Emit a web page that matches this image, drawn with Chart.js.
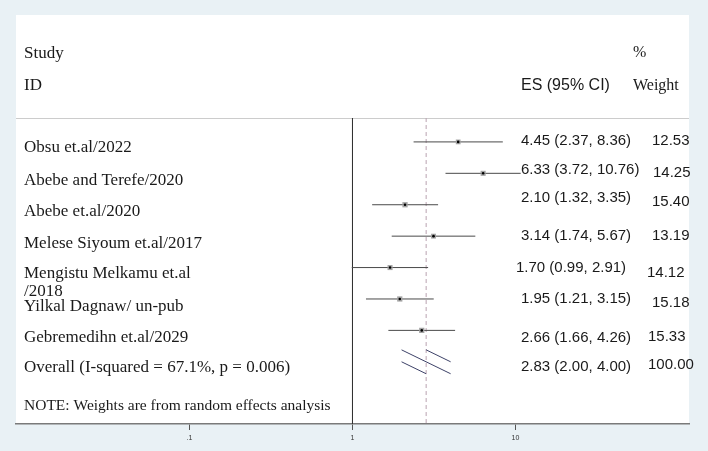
<!DOCTYPE html>
<html>
<head>
<meta charset="utf-8">
<script src="https://cdn.jsdelivr.net/npm/chart.js@4.4.1/dist/chart.umd.min.js"></script>
<style>
  html, body { margin: 0; padding: 0; background: #e9f1f5; }
  #wrap { width: 708px; height: 451px; position: relative; }
</style>
</head>
<body>
<div id="wrap"><canvas id="forest"></canvas></div>
<script>
// Forest plot data
const studies = ['Obsu et.al/2022', 'Abebe and Terefe/2020', 'Abebe et.al/2020', 'Melese Siyoum et.al/2017',
  'Mengistu Melkamu et.al\n/2018', 'Yilkal Dagnaw/ un-pub', 'Gebremedihn et.al/2029'];
const es = [4.45, 6.33, 2.10, 3.14, 1.70, 1.95, 2.66];
const ciLow = [2.37, 3.72, 1.32, 1.74, 0.99, 1.21, 1.66];
const ciHigh = [8.36, 10.76, 3.35, 5.67, 2.91, 3.15, 4.26];
const weights = [12.53, 14.25, 15.40, 13.19, 14.12, 15.18, 15.33];
const overallLabel = 'Overall (I-squared = 67.1%, p = 0.006)';
const overallEs = 2.83;
const overallLow = 2.00;
const overallHigh = 4.00;
const overallWeight = 100.00;
const tickValues = [0.1, 1, 10];
const tickLabels = ['.1', '1', '10'];

// Layout (pixels / scale limits)
const X_MIN = 0.008623, X_MAX = 115.97;
const Y_MIN = -4.04, Y_MAX = 8.98;
const HEADER_ROW = -0.76;
const DIAMOND_H = 0.38;
const labelDy = [6, 7, 7, 7, 6, 8, 7, 6];
const esX = [521, 521, 521, 521, 516, 521, 521, 521];
const esDy = [-1, -3, -7, 0, 0, 0, 7, 5];
const wX = [652, 653, 652, 652, 647, 652, 648, 648];
const wDy = [-1, 0, -3, 0, 5, 4, 6, 3];

const SERIF = '"Liberation Serif", "Times New Roman", serif';
const SANS = '"Liberation Sans", Arial, sans-serif';
const TEXT = '#1a1a1a';

const fmtCi = (e, l, h) => `${e.toFixed(2)} (${l.toFixed(2)}, ${h.toFixed(2)})`;
const overallRow = studies.length;

function seg(points, color, width, order, dash) {
  return {
    data: points, showLine: true, borderColor: color, borderWidth: width,
    borderDash: dash || [], pointRadius: 0, pointHoverRadius: 0, order: order
  };
}

const datasets = [];
// centre dots
datasets.push({
  data: es.map((v, i) => ({ x: v, y: i })),
  pointStyle: 'circle', pointRadius: 1.3, pointHoverRadius: 1.3,
  backgroundColor: '#000', borderWidth: 0, order: 0
});
// weight boxes
datasets.push({
  data: es.map((v, i) => ({ x: v, y: i })),
  pointStyle: 'rect', pointRadius: weights.map(w => Math.sqrt(w) * 0.95),
  backgroundColor: '#a4a4a4', borderWidth: 0, order: 1
});
// confidence intervals
es.forEach((v, i) => {
  datasets.push(seg([{ x: ciLow[i], y: i }, { x: ciHigh[i], y: i }], '#4a4a4a', 1, 2));
});
// overall (drawn as in the figure)
datasets.push(seg([{ x: overallLow, y: overallRow - DIAMOND_H }, { x: overallHigh, y: overallRow + DIAMOND_H }], '#3d4268', 1, 3));
datasets.push(seg([{ x: overallEs, y: overallRow - DIAMOND_H }, { x: overallHigh, y: overallRow }], '#3d4268', 1, 3));
datasets.push(seg([{ x: overallLow, y: overallRow }, { x: overallEs, y: overallRow + DIAMOND_H }], '#3d4268', 1, 3));
// reference lines
datasets.push(seg([{ x: overallEs, y: HEADER_ROW }, { x: overallEs, y: Y_MAX }], '#b9a2b0', 1, 4, [4, 3]));
datasets.push(seg([{ x: 1, y: HEADER_ROW }, { x: 1, y: Y_MAX }], '#333', 1, 5));

const forestPlugin = {
  id: 'forestText',
  beforeDraw(chart) {
    const { ctx, chartArea: a } = chart;
    const y = Math.round(chart.scales.y.getPixelForValue(HEADER_ROW)) + 0.5;
    ctx.save();
    ctx.fillStyle = '#ffffff';
    ctx.fillRect(a.left, a.top, a.right - a.left, a.bottom - a.top);
    ctx.strokeStyle = '#cccccc';
    ctx.lineWidth = 1;
    ctx.beginPath();
    ctx.moveTo(a.left, y);
    ctx.lineTo(a.right, y);
    ctx.stroke();
    ctx.restore();
  },
  afterDraw(chart) {
    const { ctx, chartArea: a } = chart;
    const ys = chart.scales.y;
    const left = a.left + 8;
    ctx.save();
    ctx.fillStyle = TEXT;
    ctx.textBaseline = 'middle';
    ctx.textAlign = 'left';

    // headers
    ctx.font = `17px ${SERIF}`;
    ctx.fillText('Study', left, 54);
    ctx.fillText('ID', left, 86);
    ctx.font = `16px ${SERIF}`;
    ctx.fillText('%', 633, 53);
    ctx.fillText('Weight', 633, 86);
    ctx.font = `16px ${SANS}`;
    ctx.fillText('ES (95% CI)', 521, 86);

    // study rows
    studies.forEach((name, i) => {
      const y = ys.getPixelForValue(i);
      ctx.font = `17px ${SERIF}`;
      name.split('\n').forEach((line, k) => {
        ctx.fillText(line, left, y + labelDy[i] + k * 18);
      });
      ctx.font = `15px ${SANS}`;
      ctx.fillText(fmtCi(es[i], ciLow[i], ciHigh[i]), esX[i], y + esDy[i]);
      ctx.fillText(weights[i].toFixed(2), wX[i], y + wDy[i]);
    });

    // overall row
    const yo = ys.getPixelForValue(overallRow);
    ctx.font = `17px ${SERIF}`;
    ctx.fillText(overallLabel, left, yo + labelDy[overallRow]);
    ctx.font = `15px ${SANS}`;
    ctx.fillText(fmtCi(overallEs, overallLow, overallHigh), esX[overallRow], yo + esDy[overallRow]);
    ctx.fillText(overallWeight.toFixed(2), wX[overallRow], yo + wDy[overallRow]);

    // note
    ctx.font = `15.5px ${SERIF}`;
    ctx.fillText('NOTE: Weights are from random effects analysis', left, 406);
    ctx.restore();
  }
};

new Chart(document.getElementById('forest'), {
  type: 'scatter',
  data: { datasets: datasets },
  options: {
    responsive: true,
    maintainAspectRatio: false,
    animation: false,
    events: [],
    layout: { padding: { left: 16, right: 19, top: 15, bottom: 0 } },
    plugins: { legend: { display: false }, tooltip: { enabled: false } },
    scales: {
      x: {
        type: 'logarithmic',
        min: X_MIN,
        max: X_MAX,
        afterBuildTicks: (scale) => { scale.ticks = tickValues.map(v => ({ value: v })); },
        afterFit: (scale) => { scale.height = 27; },
        ticks: {
          autoSkip: false,
          maxRotation: 0,
          padding: 4,
          color: '#333',
          font: { size: 7, family: SANS },
          callback: (v) => tickLabels[tickValues.indexOf(v)]
        },
        grid: { drawOnChartArea: false, drawTicks: true, tickLength: 6, color: '#555' },
        border: { color: '#7a7a7a', width: 1.5 }
      },
      y: { type: 'linear', display: false, reverse: true, min: Y_MIN, max: Y_MAX }
    }
  },
  plugins: [forestPlugin]
});
</script>
</body>
</html>
